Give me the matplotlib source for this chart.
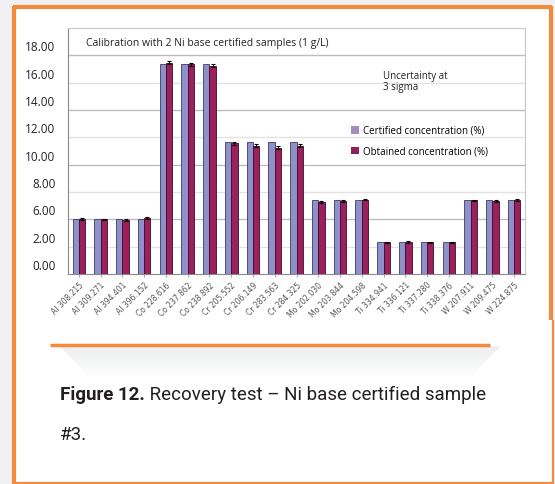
import numpy as np
import matplotlib.pyplot as plt
from matplotlib.patches import Rectangle

lines = ["Al 308.215", "Al 309.271", "Al 394.401", "Al 396.152",
         "Co 228.616", "Co 237.862", "Co 238.892",
         "Cr 205.552", "Cr 206.149", "Cr 283.563", "Cr 284.325",
         "Mo 202.030", "Mo 203.844", "Mo 204.598",
         "Ti 334.941", "Ti 336.121", "Ti 337.280", "Ti 338.376",
         "W 207.911", "W 209.475", "W 224.875"]
certified = [4.0, 4.0, 4.0, 4.0,
             15.4, 15.4, 15.4,
             9.65, 9.65, 9.65, 9.65,
             5.45, 5.45, 5.45,
             2.36, 2.36, 2.36, 2.36,
             5.4, 5.4, 5.4]
obtained = [4.0, 4.0, 3.95, 4.1,
            15.45, 15.35, 15.25,
            9.55, 9.4, 9.25, 9.4,
            5.25, 5.33, 5.44,
            2.32, 2.33, 2.32, 2.32,
            5.38, 5.33, 5.4]
uncert = [0.08, 0.06, 0.06, 0.1,
          0.12, 0.1, 0.1,
          0.1, 0.08, 0.08, 0.08,
          0.06, 0.06, 0.06,
          0.05, 0.05, 0.05, 0.05,
          0.06, 0.06, 0.06]
ytick_labels = ["0.00", "2.00", "6.00", "8.00", "10.00", "12.00", "14.00", "16.00", "18.00"]

W, H = 555, 484
fig = plt.figure(figsize=(W / 100, H / 100), dpi=100)
fig.patch.set_facecolor("#eef0f1")

# page decorations in pixel coordinates
bg = fig.add_axes([0, 0, 1, 1])
bg.set_xlim(0, W)
bg.set_ylim(H, 0)
bg.axis("off")
orange = "#f58a3c"
bg.add_patch(Rectangle((14, 7), 537, 480, facecolor="white", edgecolor="none"))
# shadow under the inner orange rule
for i in range(30):
    a = 0.09 * (1 - i / 30)
    bg.add_patch(Rectangle((60 + i, 346 + i), 440 - 2 * i, 2, facecolor="#9aa0a6",
                           alpha=a, edgecolor="none"))
bg.plot([14, 14], [6, 484], color=orange, lw=3, solid_capstyle="butt")
bg.plot([13, 552], [7, 7], color=orange, lw=3, solid_capstyle="butt")
bg.plot([551, 551], [6, 320], color=orange, lw=3, solid_capstyle="butt")
bg.plot([553, 553], [320, 484], color=orange, lw=1.5, solid_capstyle="butt")
bg.plot([14, 553], [483, 483], color=orange, lw=1.5, solid_capstyle="butt")
bg.plot([50, 490], [345, 345], color=orange, lw=2.5, solid_capstyle="butt")

cap_font = ["Roboto", "DejaVu Sans"]
t1 = bg.text(60, 400, "Figure 12.", fontsize=13.5, fontweight="bold", color="#231f20",
             family=cap_font, va="baseline")
bg.annotate(" Recovery test \u2013 Ni base certified sample", xy=(1, 0), xycoords=t1,
            va="bottom", ha="left", fontsize=13.5, color="#231f20", family=cap_font)
bg.text(60, 440, "#3.", fontsize=13.5, color="#231f20", family=cap_font, va="baseline")

# chart
ui_font = ["Open Sans", "DejaVu Sans"]
ax = fig.add_axes([68 / W, 1 - 274 / H, (525 - 68) / W, (274 - 28) / H])
x = np.arange(len(lines))
bw = 0.29
ax.bar(x - bw / 2, certified, bw, color="#8f8fcc", edgecolor="#3c3c5c", linewidth=0.6,
       label="Certified concentration (%)", zorder=3)
ax.bar(x + bw / 2, obtained, bw, color="#9c1f5e", edgecolor="#3a0f22", linewidth=0.6,
       label="Obtained concentration (%)", zorder=3)
ax.errorbar(x + bw / 2, obtained, yerr=uncert, fmt="none", ecolor="black", elinewidth=0.8,
            capsize=1.2, capthick=0.8, zorder=4)

ax.set_xlim(-0.5, 20.5)
ax.set_ylim(0, 18)
for g in range(2, 18, 2):
    ax.axhline(g, color="#bdbdbd" if g % 4 == 0 else "#e2e2e2", lw=1.0, zorder=1)
for s in ["top", "right"]:
    ax.spines[s].set_color("#c8c8c8")
ax.spines["left"].set_color("#8a8a8a")
ax.spines["bottom"].set_color("#8a8a8a")

ax.set_yticks([0.65 + 2 * k for k in range(len(ytick_labels))])
ax.set_yticklabels(ytick_labels, fontsize=8.5, color="#222222", family=ui_font)
ax.tick_params(axis="y", length=0, pad=9)
ax.set_xticks(x)
ax.set_xticklabels(lines, rotation=45, ha="right", rotation_mode="anchor", fontsize=5.5,
                   color="#555555")
ax.tick_params(axis="x", length=2, color="#aaaaaa", pad=3)

ax.text(0.04, 0.935, "Calibration with 2 Ni base certified samples (1 g/L)", transform=ax.transAxes,
        fontsize=7.5, color="#222222", va="center", family=ui_font)
ax.text(0.69, 0.78, "Uncertainty at\n3 sigma", transform=ax.transAxes, fontsize=7,
        color="#222222", va="center", linespacing=1.0, family=ui_font)
leg = ax.legend(loc="upper left", bbox_to_anchor=(0.6, 0.64), frameon=False,
                handlelength=0.8, handleheight=0.8, handletextpad=0.4, labelspacing=1.0,
                prop={"family": ui_font, "size": 7})
leg.legend_handles[0].set_facecolor("#a68cba")
leg.legend_handles[0].set_edgecolor("none")
leg.legend_handles[1].set_facecolor("#8b2455")
leg.legend_handles[1].set_edgecolor("none")

fig.savefig("out.png", dpi=100)
